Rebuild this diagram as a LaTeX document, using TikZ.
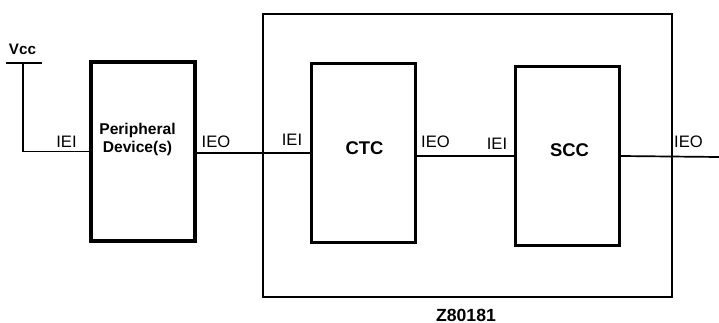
\documentclass[tikz,border=0pt]{standalone}
\usepackage{fontspec}
\setmainfont{Liberation Sans}
\usetikzlibrary{positioning}

\begin{document}
\begin{tikzpicture}[x=0.5pt, y=-0.5pt,
  blk/.style={draw, line width=1.6pt, inner sep=0pt, minimum width=52pt, minimum height=89.5pt},
  pin/.style={anchor=base, inner sep=0pt, font=\fontsize{8.3}{10}\selectfont},
  tag/.style={anchor=base, inner sep=0pt, font=\fontsize{9.2}{11}\selectfont\bfseries},
  wire/.style={line width=0.85pt}]
\useasboundingbox (0,0) rectangle (719,322);

% chip outline
\node[draw, line width=0.9pt, inner sep=0pt, minimum width=204.5pt, minimum height=141.5pt]
  (chip) at (467.5,155.5) {};
\node[tag, font=\fontsize{8.8}{10}\selectfont\bfseries] (chipname) at (466,321) {Z80181};

% blocks
\node[blk] (periph) at (143,151.5) {};
\node[blk] (ctc) at (363.5,153) {};
\node[blk] (scc) at (567.5,156) {};

\node[inner sep=0pt, align=center, font=\fontsize{7.8}{9}\selectfont\bfseries]
  (periphname) at (137.5,139.5) {Peripheral\\Device(s)};
\node[tag] (ctcname) at (364.5,154) {CTC};
\node[tag] (sccname) at (569.5,156) {SCC};

% daisy chain
\coordinate (vcc) at (23,63);
\coordinate (ieo) at (719,157);
\node[tag, font=\fontsize{7.6}{9}\selectfont\bfseries] (vcclabel) at (22.5,54) {Vcc};
\draw[wire] ([xshift=-8.5pt]vcc) -- ([xshift=9.5pt]vcc);
\draw[wire] (vcc) |- (periph.west);
\draw[wire] (periph.east |- ctc.west) -- (ctc.west);
\draw[wire] (ctc.east |- scc.west) -- (scc.west);
\draw[wire] (scc.east) -- (ieo);

\node[pin] (ieiA) at (66.5,147) {IEI};
\node[pin] (ieoA) at (216,147) {IEO};
\node[pin] (ieiB) at (292,145) {IEI};
\node[pin] (ieoB) at (435.5,147) {IEO};
\node[pin] (ieiC) at (497,149) {IEI};
\node[pin] (ieoC) at (688.5,147) {IEO};
\end{tikzpicture}
\end{document}
